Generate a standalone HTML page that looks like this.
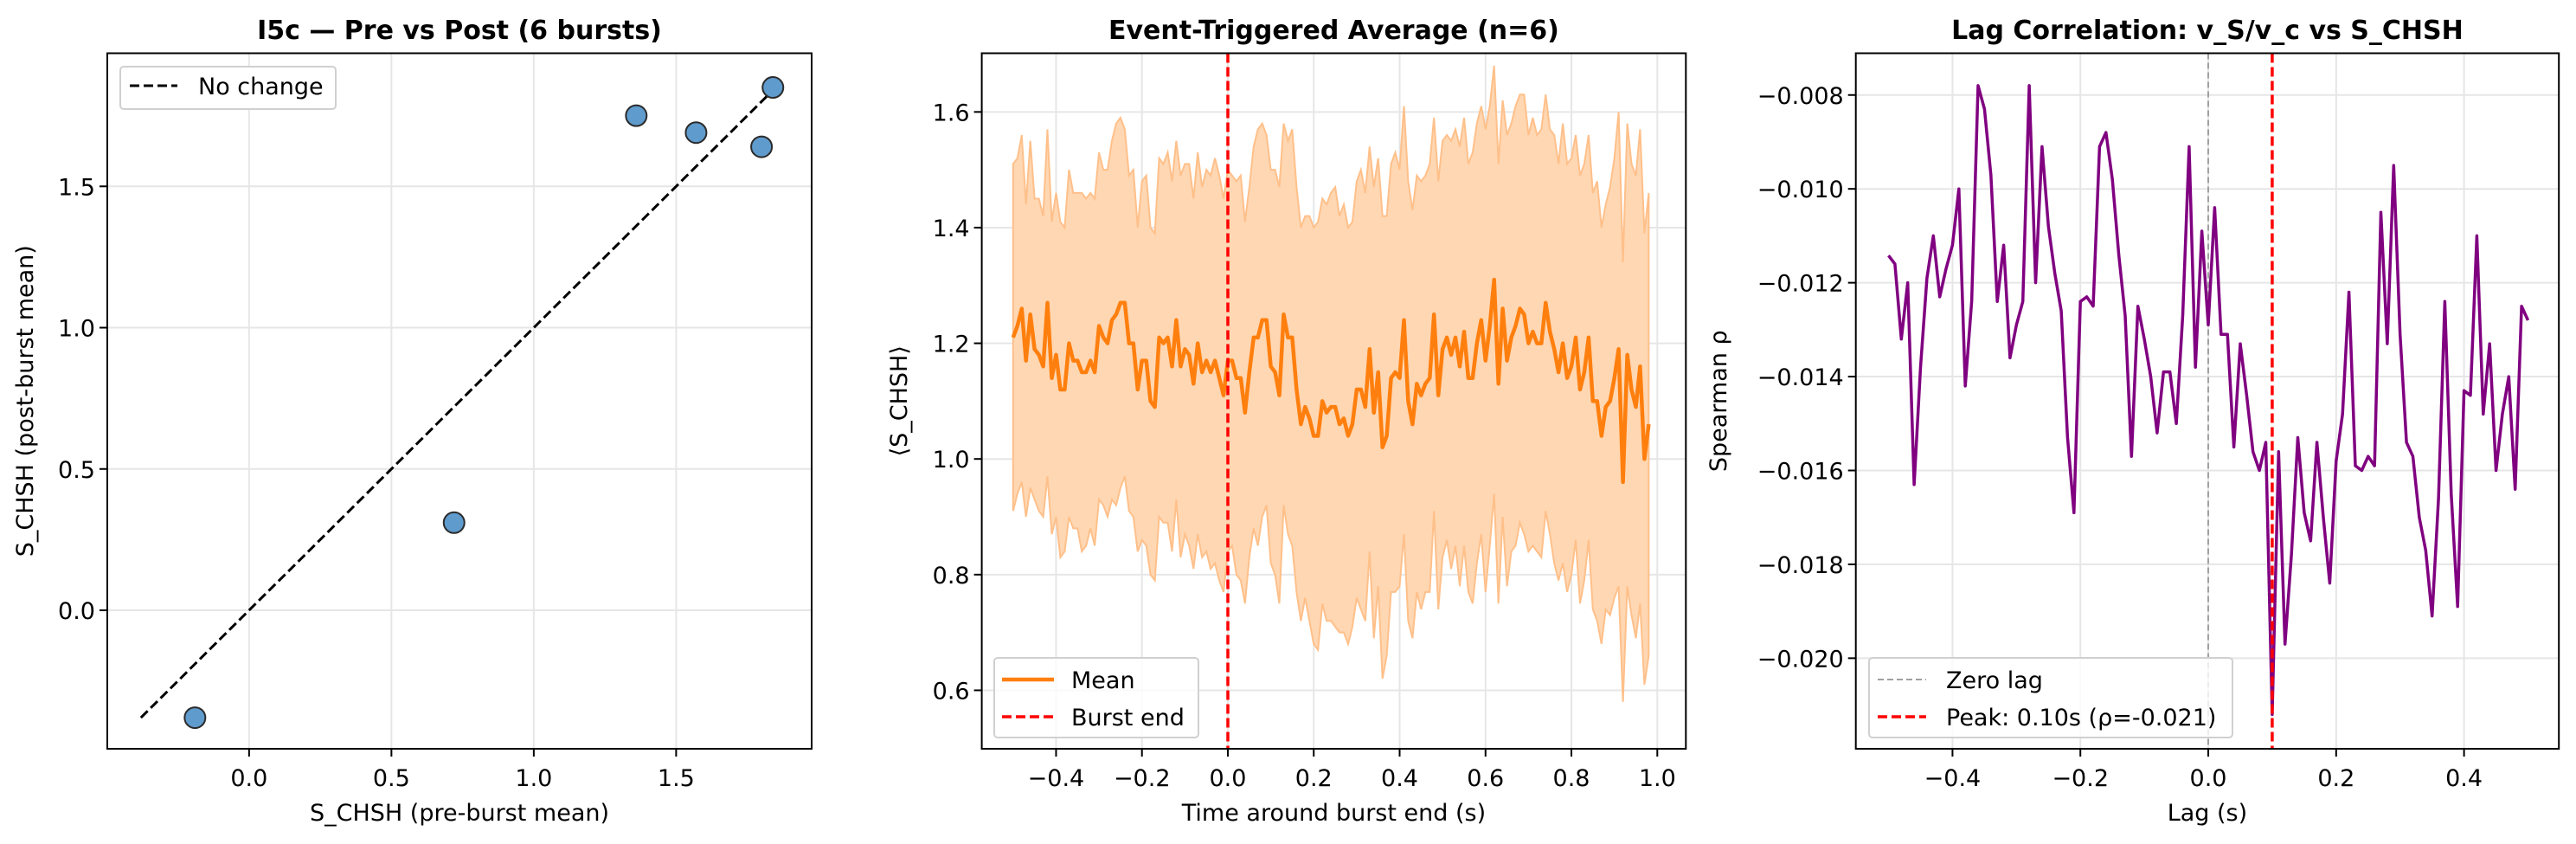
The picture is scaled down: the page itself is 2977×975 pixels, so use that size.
<!DOCTYPE html>
<html><head><meta charset="utf-8"><style>
html,body{margin:0;padding:0;background:#fff;}
svg{display:block;font-family:"DejaVu Sans","Liberation Sans",sans-serif;}
</style></head><body>
<svg id="fig" width="2977" height="975" viewBox="0 0 2977 975" xmlns="http://www.w3.org/2000/svg"></svg>
<script>
// ---- Panel 1 data ----
const preVals = [-0.19, 0.72, 1.36, 1.57, 1.80, 1.84];
const postVals = [-0.38, 0.31, 1.75, 1.69, 1.64, 1.85];
const p1XTicks = [0.0, 0.5, 1.0, 1.5];
const p1YTicks = [0.0, 0.5, 1.0, 1.5];
const refLine = [-0.38, 1.85];
// ---- Panel 2 data ----
const etaStart = -0.50;
const etaStep = 0.01;
const etaMean = [1.21,1.23,1.26,1.17,1.25,1.19,1.18,1.16,1.27,1.14,1.18,1.12,1.12,1.20,1.17,1.17,1.15,1.15,1.17,1.15,1.23,1.21,1.20,1.24,1.25,1.27,1.27,1.20,1.20,1.12,1.17,1.17,1.10,1.09,1.21,1.20,1.21,1.16,1.24,1.16,1.19,1.18,1.13,1.20,1.15,1.17,1.15,1.17,1.14,1.11,1.17,1.17,1.14,1.14,1.08,1.15,1.21,1.21,1.24,1.24,1.16,1.15,1.11,1.25,1.21,1.21,1.12,1.06,1.09,1.07,1.04,1.04,1.10,1.08,1.09,1.09,1.06,1.07,1.04,1.06,1.12,1.12,1.09,1.19,1.08,1.15,1.02,1.04,1.14,1.15,1.14,1.24,1.10,1.06,1.13,1.11,1.13,1.14,1.25,1.11,1.19,1.21,1.18,1.21,1.16,1.22,1.14,1.14,1.20,1.24,1.17,1.23,1.31,1.13,1.26,1.17,1.21,1.23,1.26,1.25,1.20,1.22,1.20,1.20,1.27,1.22,1.19,1.15,1.20,1.14,1.16,1.21,1.12,1.15,1.21,1.10,1.10,1.04,1.09,1.10,1.14,1.19,0.96,1.18,1.12,1.09,1.16,1.00,1.06];
const etaHalf = [0.30,0.29,0.30,0.27,0.30,0.26,0.27,0.26,0.30,0.27,0.28,0.29,0.28,0.30,0.29,0.29,0.31,0.30,0.29,0.30,0.30,0.29,0.30,0.31,0.33,0.32,0.30,0.29,0.30,0.28,0.31,0.32,0.30,0.30,0.31,0.31,0.32,0.32,0.31,0.33,0.32,0.33,0.32,0.33,0.32,0.33,0.34,0.35,0.35,0.34,0.33,0.32,0.34,0.35,0.33,0.32,0.33,0.36,0.34,0.32,0.34,0.35,0.36,0.33,0.34,0.36,0.35,0.34,0.33,0.35,0.36,0.37,0.35,0.36,0.37,0.38,0.36,0.37,0.36,0.35,0.36,0.38,0.37,0.35,0.39,0.37,0.40,0.38,0.37,0.38,0.36,0.37,0.38,0.37,0.36,0.37,0.36,0.37,0.34,0.37,0.36,0.35,0.37,0.36,0.38,0.37,0.37,0.39,0.38,0.37,0.40,0.38,0.37,0.38,0.36,0.39,0.37,0.38,0.37,0.38,0.36,0.37,0.36,0.37,0.36,0.35,0.37,0.36,0.38,0.37,0.36,0.35,0.37,0.36,0.35,0.36,0.38,0.36,0.35,0.37,0.38,0.41,0.38,0.40,0.39,0.40,0.41,0.39,0.40];
const p2XTicks = [-0.4, -0.2, 0.0, 0.2, 0.4, 0.6, 0.8, 1.0];
const p2YTicks = [0.6, 0.8, 1.0, 1.2, 1.4, 1.6];
const burstEnd = 0.0;
// ---- Panel 3 data ----
const lagStart = -0.50;
const lagStep = 0.01;
const lagRho = [-0.01142,-0.0116,-0.0132,-0.0120,-0.0163,-0.0138,-0.0119,-0.0110,-0.0123,-0.0117,-0.0112,-0.0100,-0.0142,-0.0124,-0.0078,-0.0083,-0.0097,-0.0124,-0.0112,-0.0136,-0.0129,-0.0124,-0.0078,-0.0120,-0.0091,-0.0108,-0.0118,-0.0126,-0.0153,-0.0169,-0.0124,-0.0123,-0.0125,-0.0091,-0.0088,-0.0098,-0.0114,-0.0127,-0.0157,-0.0125,-0.0132,-0.0140,-0.0152,-0.0139,-0.0139,-0.0150,-0.0127,-0.0091,-0.0138,-0.0109,-0.0129,-0.0104,-0.0131,-0.0131,-0.0155,-0.0133,-0.0144,-0.0156,-0.0160,-0.0154,-0.0212,-0.0156,-0.0197,-0.0178,-0.0153,-0.0169,-0.0175,-0.0154,-0.0170,-0.0184,-0.0158,-0.0148,-0.0122,-0.0159,-0.0160,-0.0157,-0.0159,-0.0105,-0.0133,-0.0095,-0.0131,-0.0154,-0.0157,-0.0170,-0.0177,-0.0191,-0.0166,-0.0124,-0.0165,-0.0189,-0.0143,-0.0144,-0.0110,-0.0148,-0.0133,-0.0160,-0.0148,-0.0140,-0.0164,-0.0125,-0.0128];
const p3XTicks = [-0.4, -0.2, 0.0, 0.2, 0.4];
const p3YTicks = [-0.008, -0.010, -0.012, -0.014, -0.016, -0.018, -0.020];
const peakLag = 0.10;
const zeroLag = 0.0;

const NS = "http://www.w3.org/2000/svg";
const fig = document.getElementById('fig');
function mk(tag, attrs, parent, text){
  const e = document.createElementNS(NS, tag);
  for (const k in attrs) e.setAttribute(k, attrs[k]);
  if (text !== undefined) e.textContent = text;
  (parent || fig).appendChild(e);
  return e;
}
function lin(d0,d1,r0,r1){return v => r0 + (v-d0)/(d1-d0)*(r1-r0);}
const T=61.5, B=865;
function axes(g,L,R,sx,sy,xt,yt,fx,fy,title,xl,yl,ylx){
  xt.forEach(v=>{const x=sx(v);
    const gl=mk('line',{x1:x,x2:x,y1:T,y2:B,stroke:'#e6e6e6','stroke-width':2},g);
    
    
    mk('line',{x1:x,x2:x,y1:B,y2:B+9,stroke:'#000','stroke-width':2},g);
    const t=mk('text',{x:x,y:B+43,'text-anchor':'middle','font-size':27},g,fx(v));
    
    
  });
  yt.forEach(v=>{const y=sy(v);
    const gl=mk('line',{x1:L,x2:R,y1:y,y2:y,stroke:'#e6e6e6','stroke-width':2},g);
    
    
    mk('line',{x1:L-9,x2:L,y1:y,y2:y,stroke:'#000','stroke-width':2},g);
    const t=mk('text',{x:L-14,y:y+10,'text-anchor':'end','font-size':27},g,fy(v));
    
    
  });
  const tt=mk('text',{x:(L+R)/2,y:45,'text-anchor':'middle','font-size':30,'font-weight':'bold'},g,title);
  
  
  const xa=mk('text',{x:(L+R)/2,y:B+83,'text-anchor':'middle','font-size':27},g,xl);
  
  
  const ya=mk('text',{x:ylx,y:(T+B)/2,'text-anchor':'middle','font-size':27,transform:`rotate(-90 ${ylx} ${(T+B)/2})`},g,yl);
  
  
}
function frame(g,L,R){
  const f=mk('rect',{x:L,y:T,width:R-L,height:B-T,fill:'none',stroke:'#000','stroke-width':2},g);
  
  
}
const minus = s => s.replace('-', '\u2212');

// ---------- Panel 1 ----------
{
const g=mk('g',{});  
const L=124,R=938;
const sx=lin(-0.498,1.976,L,R), sy=lin(1.971,-0.49,T,B);
axes(g,L,R,sx,sy,p1XTicks,p1YTicks,v=>minus(v.toFixed(1)),v=>minus(v.toFixed(1)),'I5c — Pre vs Post (6 bursts)','S_CHSH (pre-burst mean)','S_CHSH (post-burst mean)',38);
const rl=mk('line',{x1:sx(refLine[0]),y1:sy(refLine[0]),x2:sx(refLine[1]),y2:sy(refLine[1]),stroke:'#000','stroke-width':3,'stroke-dasharray':'11,5'},g);
 
preVals.forEach((p,i)=>{
  const c=mk('circle',{cx:sx(p),cy:sy(postVals[i]),r:12,fill:'#5f9bcc',stroke:'#2b2b2b','stroke-width':2},g);
   
});
frame(g,L,R);
const lg=mk('g',{},g);  
mk('rect',{x:139,y:77,width:249,height:49,rx:4,fill:'#fff',stroke:'#d0d0d0','stroke-width':2},lg);
mk('line',{x1:150,x2:205,y1:99,y2:99,stroke:'#000','stroke-width':3,'stroke-dasharray':'11,5'},lg);
const lt=mk('text',{x:229,y:109,'font-size':27},lg,'No change');  
}
// ---------- Panel 2 ----------
{
const g=mk('g',{});  
const L=1134.6,R=1948.3;
const sx=lin(-0.573,1.0665,L,R), sy=lin(1.7015,0.4989,T,B);
axes(g,L,R,sx,sy,p2XTicks,p2YTicks,v=>minus(v.toFixed(1)),v=>v.toFixed(1),'Event-Triggered Average (n=6)','Time around burst end (s)','⟨S_CHSH⟩',1048);
const ts=etaMean.map((_,i)=>etaStart+i*etaStep);
let up=ts.map((t,i)=>`${sx(t).toFixed(1)},${sy(etaMean[i]+etaHalf[i]).toFixed(1)}`);
let lo=ts.map((t,i)=>`${sx(t).toFixed(1)},${sy(etaMean[i]-etaHalf[i]).toFixed(1)}`).reverse();
const band=mk('polygon',{points:up.concat(lo).join(' '),fill:'#ffd7b3',stroke:'#ffc08a','stroke-width':2},g);
 
const ml=mk('polyline',{points:ts.map((t,i)=>`${sx(t).toFixed(1)},${sy(etaMean[i]).toFixed(1)}`).join(' '),fill:'none',stroke:'#ff7f0e','stroke-width':4.5,'stroke-linejoin':'round'},g);
 
const bl=mk('line',{x1:sx(burstEnd),x2:sx(burstEnd),y1:T,y2:B,stroke:'#ff0000','stroke-width':3.5,'stroke-dasharray':'11,5'},g);
 
frame(g,L,R);
const lg=mk('g',{},g);  
mk('rect',{x:1149,y:760,width:236,height:92,rx:4,fill:'#fff','fill-opacity':0.8,stroke:'#d0d0d0','stroke-width':2},lg);
mk('line',{x1:1158,x2:1218,y1:785,y2:785,stroke:'#ff7f0e','stroke-width':4.5},lg);
const a=mk('text',{x:1238,y:795,'font-size':27},lg,'Mean');  
mk('line',{x1:1158,x2:1218,y1:828,y2:828,stroke:'#ff0000','stroke-width':3.5,'stroke-dasharray':'11,5'},lg);
const b=mk('text',{x:1238,y:838,'font-size':27},lg,'Burst end');  
}
// ---------- Panel 3 ----------
{
const g=mk('g',{});  
const L=2144.7,R=2957.2;
const sx=lin(-0.5512,0.5483,L,R), sy=lin(-0.00711,-0.02193,T,B);
axes(g,L,R,sx,sy,p3XTicks,p3YTicks,v=>minus(v.toFixed(1)),v=>minus(v.toFixed(3)),'Lag Correlation: v_S/v_c vs S_CHSH','Lag (s)','Spearman ρ',1995);
const zl=mk('line',{x1:sx(zeroLag),x2:sx(zeroLag),y1:T,y2:B,stroke:'#a0a0a0','stroke-width':2,'stroke-dasharray':'7,4'},g);
 
const ls=lagRho.map((_,i)=>lagStart+i*lagStep);
const pl=mk('polyline',{points:ls.map((t,i)=>`${sx(t).toFixed(1)},${sy(lagRho[i]).toFixed(1)}`).join(' '),fill:'none',stroke:'#800080','stroke-width':3.5,'stroke-linejoin':'round'},g);
 
const pk=mk('line',{x1:sx(peakLag),x2:sx(peakLag),y1:T,y2:B,stroke:'#ff0000','stroke-width':3.5,'stroke-dasharray':'11,5'},g);
 
frame(g,L,R);
const lg=mk('g',{},g);  
mk('rect',{x:2160,y:760,width:420,height:92,rx:4,fill:'#fff','fill-opacity':0.8,stroke:'#d0d0d0','stroke-width':2},lg);
mk('line',{x1:2170,x2:2226,y1:785,y2:785,stroke:'#a0a0a0','stroke-width':2,'stroke-dasharray':'7,4'},lg);
const a=mk('text',{x:2249,y:795,'font-size':27},lg,'Zero lag');  
mk('line',{x1:2170,x2:2226,y1:828,y2:828,stroke:'#ff0000','stroke-width':3.5,'stroke-dasharray':'11,5'},lg);
const b=mk('text',{x:2249,y:838,'font-size':27},lg,'Peak: 0.10s (ρ=-0.021)');  
}
</script>
</body></html>
